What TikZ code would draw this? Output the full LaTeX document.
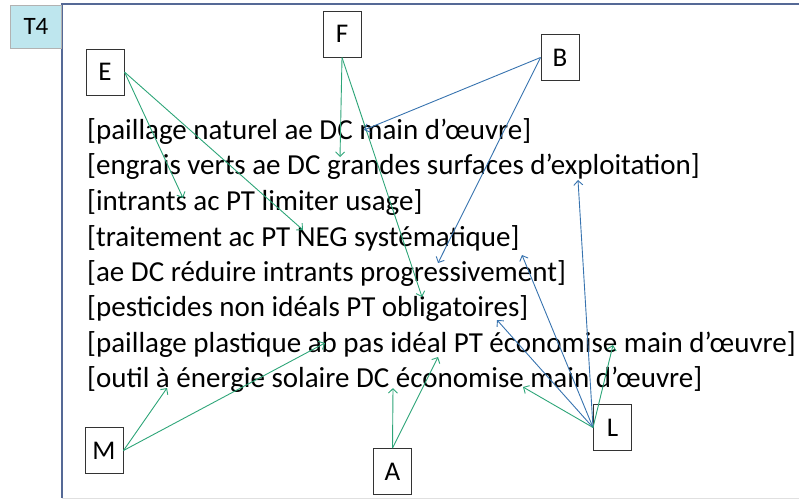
\documentclass[tikz,border=0pt]{standalone}
\usepackage{fontspec}
\setmainfont{Carlito}
\usetikzlibrary{arrows.meta}

\definecolor{vert}{RGB}{45,165,120}
\definecolor{bleu}{RGB}{55,115,175}
\definecolor{cadre}{RGB}{85,105,150}
\definecolor{ciel}{RGB}{190,230,238}

\tikzset{
  lettre/.style={draw=black!80, line width=1pt, minimum width=38pt, minimum height=46pt,
    inner sep=0pt, font=\fontsize{27}{29}\selectfont},
  ligne/.style={anchor=west, inner sep=0pt, font=\fontsize{29}{31}\selectfont},
  fv/.style={-{Straight Barb[length=4.5pt,width=9pt]}, vert, line width=0.9pt},
  fb/.style={-{Straight Barb[length=4.5pt,width=9pt]}, bleu, line width=0.9pt}
}

\begin{document}
\begin{tikzpicture}[x=1pt,y=-1pt]
    \useasboundingbox (0,0) rectangle (799,499);

    % cadre
    \draw[black!12] (62,498) -- (799,498);
    \draw[cadre, line width=2pt] (62,498) -- (62,4) -- (800,4);

    % etiquette
    \node[fill=ciel, draw=black!30, minimum width=51pt, minimum height=43pt,
      inner sep=0pt, font=\fontsize{25}{27}\selectfont] (T4) at (36,26.5) {T4};

    % lignes de texte
    \node[ligne] (l1) at (87,131.5) {[paillage naturel ae DC main d’œuvre]};
    \node[ligne] (l2) at (87,167) {[engrais verts ae DC grandes surfaces d’exploitation]};
    \node[ligne] (l3) at (87,202.5) {[intrants ac PT limiter usage]};
    \node[ligne] (l4) at (87,238) {[traitement ac PT NEG systématique]};
    \node[ligne] (l5) at (87,273.5) {[ae DC réduire intrants progressivement]};
    \node[ligne] (l6) at (87,309) {[pesticides non idéals PT obligatoires]};
    \node[ligne] (l7) at (87,344.5) {[paillage plastique ab pas idéal PT économise main d’œuvre]};
    \node[ligne] (l8) at (87,380) {[outil à énergie solaire DC économise main d’œuvre]};

    % acteurs
    \node[lettre] (E) at (105,72) {E};
    \node[lettre] (F) at (342,34) {F};
    \node[lettre] (B) at (560,57.5) {B};
    \node[lettre] (M) at (104,450.5) {M};
    \node[lettre] (A) at (392.5,471.5) {A};
    \node[lettre] (L) at (612.5,427.5) {L};

    % pointes
    \coordinate (e1) at (183,198);
    \coordinate (e2) at (303,230);
    \coordinate (f1) at (340,157);
    \coordinate (f2) at (422,297);
    \coordinate (b1) at (364,130);
    \coordinate (b2) at (438,263);
    \coordinate (m1) at (167,388);
    \coordinate (m2) at (325,343);
    \coordinate (a1) at (393,388);
    \coordinate (a2) at (438,357);
    \coordinate (lb1) at (578,180);
    \coordinate (lb2) at (522,255);
    \coordinate (lb3) at (497,320);
    \coordinate (lv1) at (523,387);
    \coordinate (lv2) at (613,345);

    % fleches
    \draw[fv] (E.east) -- (e1);
    \draw[fv] (E.east) -- (e2);
    \draw[fv] (F.south) -- (f1);
    \draw[fv] (F.south) -- (f2);
    \draw[fb] (B.west) -- (b1);
    \draw[fb] (B.west) -- (b2);
    \draw[fv] (M.east) -- (m1);
    \draw[fv] (M.east) -- (m2);
    \draw[fv] (A.north) -- (a1);
    \draw[fv] (A.north) -- (a2);
    \draw[fb] (L.west) -- (lb1);
    \draw[fb] (L.west) -- (lb2);
    \draw[fb] (L.west) -- (lb3);
    \draw[fv] (L.west) -- (lv1);
    \draw[fv] (L.west) -- (lv2);
\end{tikzpicture}
\end{document}
